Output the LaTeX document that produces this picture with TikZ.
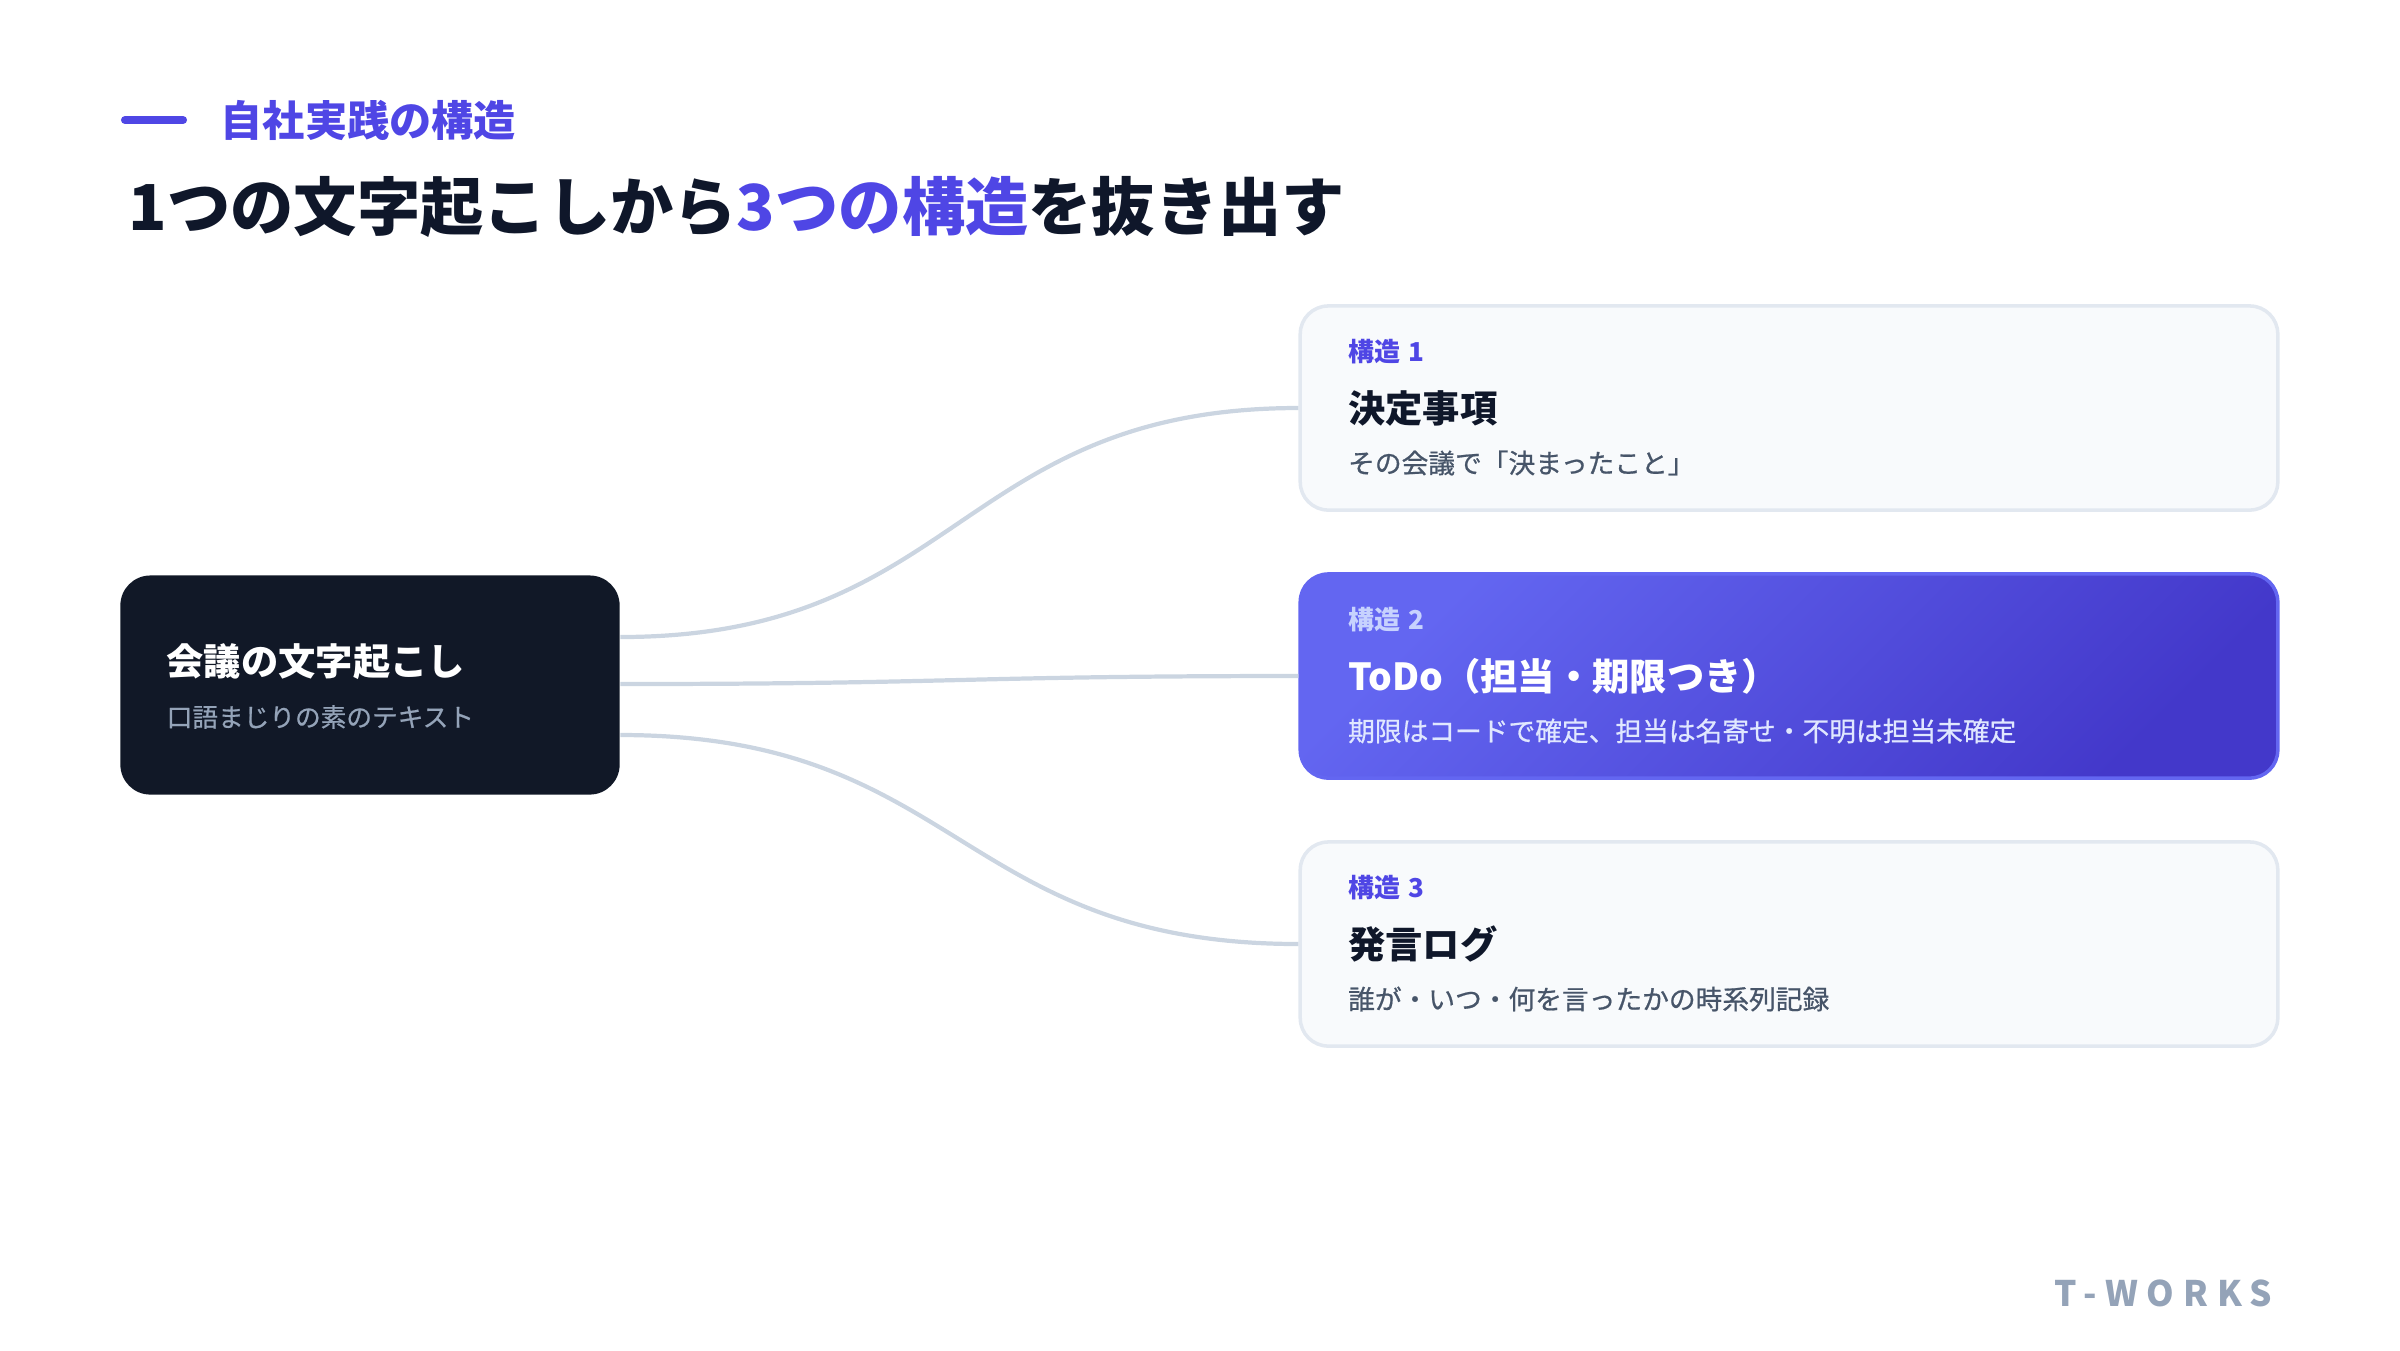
\documentclass[tikz,border=0pt]{standalone}
\usepackage{fontspec}
\setmainfont{Noto Sans CJK JP}
\newfontfamily\medium[FakeBold=0.7]{Noto Sans CJK JP}
\usepackage{xcolor}
\usetikzlibrary{positioning,calc}

\definecolor{accent}{HTML}{4F46E5}
\definecolor{ink}{HTML}{0F172A}
\definecolor{navy}{HTML}{111827}
\definecolor{slate}{HTML}{475569}
\definecolor{mist}{HTML}{94A3B8}
\definecolor{wire}{HTML}{CBD5E1}
\definecolor{cardfill}{HTML}{F8FAFC}
\definecolor{cardline}{HTML}{E2E8F0}
\definecolor{todotop}{HTML}{6366F1}
\definecolor{todobot}{HTML}{4338CA}
\definecolor{todosub}{HTML}{E0E7FF}
\definecolor{todolbl}{HTML}{C7D2FE}

\begin{document}
\begin{tikzpicture}[x=0.01cm, y=-0.01cm,
                    txt/.style  = {anchor=west, inner sep=0pt},
                    card/.style = {draw=cardline, line width=1pt, fill=cardfill, rounded corners=0.28cm,
                                   minimum width=9.77cm, minimum height=2.04cm},
                    hot/.style  = {card, draw=todotop, top color=todotop, bottom color=todobot, shading angle=45},
                    link/.style = {draw=wire, line width=1.2pt},
                    lbl/.style  = {txt, font=\fontsize{7.4}{9}\selectfont\bfseries, text=accent},
                    head/.style = {txt, font=\fontsize{10.6}{13}\selectfont\bfseries, text=ink},
                    note/.style = {txt, font=\fontsize{7.6}{9}\selectfont\medium, text=slate}]
    \useasboundingbox (0,0) rectangle (2400,1350);

    % header
    \draw[accent, line width=2.3pt, line cap=round] (125,120) -- (183,120);
    \node[txt, font=\fontsize{12}{14}\selectfont\bfseries, text=accent] (eyebrow) at (220,120) {自社実践の構造};
    \node[txt, font=\fontsize{18}{22}\selectfont\bfseries, text=ink] (title) at (128,207)
        {1つの文字起こしから\textcolor{accent}{3つの構造}を抜き出す};

    % source
    \node[fill=navy, rounded corners=0.3cm, minimum width=4.99cm, minimum height=2.19cm] (src) at (370,685) {};
    \node[txt, font=\fontsize{10.6}{13}\selectfont\bfseries, text=white] (srchead) at (166,662) {会議の文字起こし};
    \node[txt, font=\fontsize{7.3}{9}\selectfont\medium, text=mist] (srcnote) at (166,717) {口語まじりの素のテキスト};

    % cards
    \node[card] (c1) at (1789,408) {};
    \node[hot]  (c2) at (1789,676) {};
    \node[card] (c3) at (1789,944) {};

    \node[lbl]  (l1) at ($(c1.west)+(49,-56)$) {構造\hspace{0.3em}1};
    \node[head] (h1) at ($(c1.west)+(49,0)$)   {決定事項};
    \node[note] (n1) at ($(c1.west)+(49,55)$)  {その会議で「決まったこと」};

    \node[lbl, text=todolbl] (l2) at ($(c2.west)+(49,-56)$) {構造\hspace{0.3em}2};
    \node[head, text=white]  (h2) at ($(c2.west)+(49,0)$)   {ToDo（担当・期限つき）};
    \node[note, text=todosub] (n2) at ($(c2.west)+(49,55)$) {期限はコードで確定、担当は名寄せ・不明は担当未確定};

    \node[lbl]  (l3) at ($(c3.west)+(49,-56)$) {構造\hspace{0.3em}3};
    \node[head] (h3) at ($(c3.west)+(49,0)$)   {発言ログ};
    \node[note] (n3) at ($(c3.west)+(49,55)$)  {誰が・いつ・何を言ったかの時系列記録};

    % links
    \coordinate (s1) at ($(src.east)+(0,-48)$);
    \coordinate (s2) at ($(src.east)+(0,-1)$);
    \coordinate (s3) at ($(src.east)+(0,50)$);
    \draw[link] (s1) .. controls +(340,0) and +(-340,0) .. (c1.west);
    \draw[link] (s2) .. controls +(340,0) and +(-340,0) .. (c2.west);
    \draw[link] (s3) .. controls +(340,0) and +(-340,0) .. (c3.west);

    % footer
    \node[anchor=east, inner sep=0pt, text=mist,
          font=\fontsize{10}{12}\selectfont\bfseries\addfontfeatures{LetterSpace=25}] (brand) at (2273,1293) {T-WORKS};
\end{tikzpicture}
\end{document}
